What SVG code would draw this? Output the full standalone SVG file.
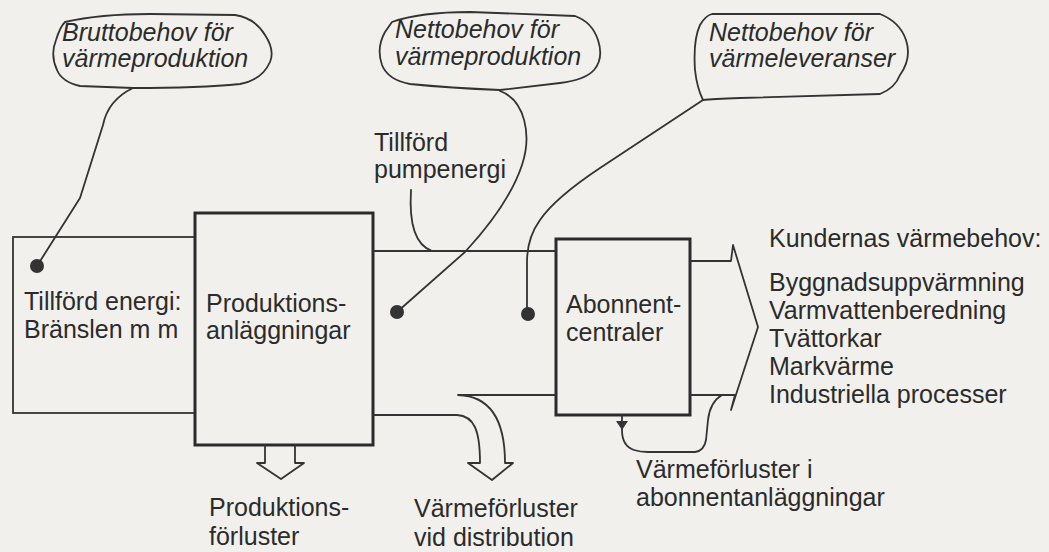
<svg xmlns="http://www.w3.org/2000/svg" width="1049" height="552" viewBox="0 0 1049 552">
<style>
.t{font-family:"Liberation Sans",Arial,sans-serif;font-size:25px;fill:#2b2b2b}
.i{font-style:italic}
.thin{fill:none;stroke:#333;stroke-width:1.8;stroke-linejoin:round;stroke-linecap:round}
.thick{fill:#f1f0ed;stroke:#2b2b2b;stroke-width:3}
.box{fill:#f1f0ed;stroke:#333;stroke-width:1.8}
.bub{fill:#f1f0ed;stroke:#333;stroke-width:1.8;stroke-linejoin:round}
.dot{fill:#333}
</style>
<rect x="0" y="0" width="1049" height="552" fill="#f1f0ed"/>
<g id="tillford-energi">
<rect class="box" x="13" y="237" width="182" height="176"/>
<text class="t" x="24" y="310">Tillförd energi:</text>
<text class="t" x="24" y="338">Bränslen m m</text>
</g>
<g id="produktionsanlaggningar">
<rect class="thick" x="195" y="213" width="178" height="232"/>
<text class="t" x="206" y="312">Produktions-</text>
<text class="t" x="206" y="339">anläggningar</text>
</g>
<g id="abonnentcentraler">
<rect class="thick" x="556" y="239" width="134" height="176"/>
<text class="t" x="566" y="313">Abonnent-</text>
<text class="t" x="566" y="341">centraler</text>
</g>
<g id="bubble-brutto">
<path class="bub" d="M65 22 Q100 14 150 14 L235 15 Q255 18 265 35 Q275 50 270 62 Q262 80 240 84 Q200 88 133 88 L80 86 Q62 82 57 70 Q50 55 56 40 Q60 27 65 22 Z"/>
<text class="t i" x="62" y="41">Bruttobehov för</text>
<text class="t i" x="62" y="67">värmeproduktion</text>
</g>
<g id="bubble-netto-prod">
<path class="bub" d="M392 22 Q420 12 470 12 L575 16 Q592 22 598 40 Q604 58 594 70 Q585 80 560 83 L500 90 Q450 88 410 84 Q388 80 382 65 Q376 48 385 32 Z"/>
<text class="t i" x="395" y="38">Nettobehov för</text>
<text class="t i" x="395" y="65">värmeproduktion</text>
</g>
<g id="bubble-netto-lev">
<path class="bub" d="M712 14 L880 14 Q900 22 906 40 Q912 58 900 75 Q895 88 880 94 L740 98 Q712 99 703 100 Q697 88 695 70 Q693 40 700 25 Q705 16 712 14 Z"/>
<text class="t i" x="709" y="41">Nettobehov för</text>
<text class="t i" x="709" y="67">värmeleveranser</text>
</g>
<g id="pumpenergi">
<text class="t" x="374" y="151">Tillförd</text>
<text class="t" x="374" y="178">pumpenergi</text>
</g>
<g id="kundernas-behov">
<text class="t" x="769" y="247">Kundernas värmebehov:</text>
<text class="t" x="769" y="291">Byggnadsuppvärmning</text>
<text class="t" x="769" y="319">Varmvattenberedning</text>
<text class="t" x="769" y="347">Tvättorkar</text>
<text class="t" x="769" y="375">Markvärme</text>
<text class="t" x="769" y="403">Industriella processer</text>
</g>
<g id="produktionsforluster">
<text class="t" x="209" y="516">Produktions-</text>
<text class="t" x="209" y="545">förluster</text>
</g>
<g id="distributionsforluster">
<text class="t" x="414" y="517">Värmeförluster</text>
<text class="t" x="414" y="546">vid distribution</text>
</g>
<g id="abonnentforluster">
<text class="t" x="636" y="478">Värmeförluster i</text>
<text class="t" x="636" y="506">abonnentanläggningar</text>
</g>
<g id="connectors">
<line class="thin" x1="373" y1="251" x2="556" y2="251"/>
<path class="thin" d="M373 415 L457 415 C474 416 480 430 480 463 L468 463 L492 480 L513 463 L505 463 C505 420 490 396 458 395 L556 395"/>
<path class="thin" d="M265 445 L265 463 L257 463 L281 479 L304 463 L295 463 L295 445"/>
<path class="thin" d="M690 261 L731 261 L733 245 L758 327 L731 410 L735 395 L690 395"/>
<path class="thin" d="M622 415 L622 430 Q622 446 634 450 Q640 452 648 452 L695 452 Q704 451 706 440 L708 420 Q710 402 722 395"/>
<polygon class="dot" points="616,421 628,421 622,430"/>
<path class="thin" d="M133 88 Q108 100 103 125 L80 198 L37 266"/>
<path class="thin" d="M500 91 C525 100 532 135 522 165 C512 195 490 225 465 252 L397 312"/>
<path class="thin" d="M703 100 L600 168 Q555 198 540 220 Q527 238 527 262 L527 314"/>
<path class="thin" d="M411 190 C409 222 415 245 432 251"/>
<circle class="dot" cx="37" cy="266" r="7"/>
<circle class="dot" cx="397" cy="312" r="7"/>
<circle class="dot" cx="528" cy="314" r="7"/>
</g>
</svg>
